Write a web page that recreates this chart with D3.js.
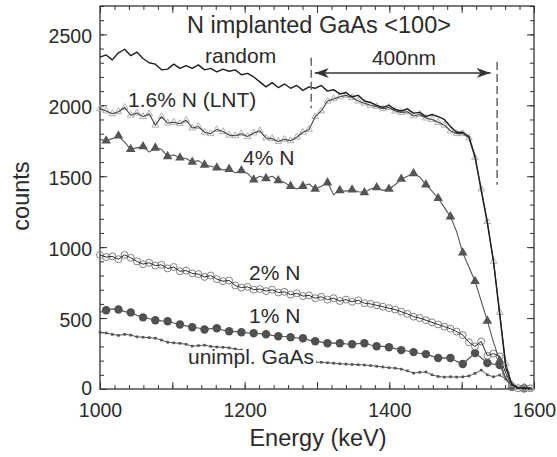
<!DOCTYPE html>
<html><head><meta charset="utf-8">
<script src="https://cdn.jsdelivr.net/npm/d3@7/dist/d3.min.js"></script>
<style>
body{margin:0;background:#fff}
text{font-family:"Liberation Sans",Arial,Helvetica,sans-serif;fill:#2b2b2b}
</style>
</head><body>
<svg id="chart" width="557" height="457"></svg>
<script>
// ---- data (counts per energy channel) ----
const channelStart = 1000;   // keV
const channelStep = 8.5;     // keV per channel

const randomCounts = [2340,2355,2320,2370,2395,2350,2375,2330,2300,2290,
 2250,2255,2290,2260,2280,2260,2285,2250,2260,2235,
 2255,2240,2250,2215,2225,2200,2165,2130,2160,2125,
 2150,2120,2140,2105,2130,2120,2140,2100,2110,2080,
 2090,2060,2070,2030,2020,2000,1985,2000,1970,1960,
 1975,1945,1950,1920,1935,1920,1900,1850,1810,1810,
 1780,1640,1400,1170,900,530,150,30,10,5,5];

const lntCounts = [1975,1960,1940,1955,1985,1930,1945,1920,1940,1860,
 1920,1875,1880,1870,1895,1840,1850,1810,1800,1830,
 1815,1790,1785,1800,1780,1805,1820,1770,1765,1745,
 1760,1750,1775,1810,1830,1920,1960,2030,2045,2060,
 2070,2055,2030,2015,2000,1990,1975,1985,1960,1950,
 1955,1925,1935,1910,1900,1880,1860,1820,1800,1800,
 1770,1630,1410,1180,900,540,180,30,10,5,5];

const n4Counts = [1760,1750,1765,1785,1740,1690,1700,1710,1670,1700,
 1690,1640,1650,1630,1625,1600,1610,1580,1570,1560,
 1545,1550,1525,1540,1520,1475,1500,1485,1500,1470,
 1455,1430,1410,1430,1445,1410,1430,1455,1370,1400,
 1395,1405,1390,1385,1410,1420,1400,1410,1440,1480,
 1500,1520,1495,1440,1395,1345,1280,1215,1110,960,
 860,760,620,480,330,200,70,20,10,5,5];

const n2Counts = [945,930,935,915,945,925,900,880,890,870,
 875,850,860,830,835,815,810,790,800,775,
 760,765,730,715,720,700,705,690,700,680,
 685,665,675,655,660,640,650,630,640,620,
 630,615,625,605,600,590,580,570,560,545,
 530,510,500,485,470,455,440,425,405,380,
 330,300,335,235,250,230,110,20,5,5,5];

const n1Counts = [540,555,565,560,545,540,520,505,495,485,
 480,478,465,455,445,435,430,420,425,428,
 415,407,405,400,395,393,390,386,378,372,
 370,365,360,358,345,337,330,323,325,323,
 318,316,320,323,310,302,300,295,285,274,
 268,260,252,246,232,218,220,218,195,176,
 215,253,220,183,175,169,77,15,5,5,5];

const unimplCounts = [400,395,385,378,385,380,368,365,362,358,
 345,330,325,322,315,302,306,309,300,296,
 294,290,282,275,268,262,255,248,240,232,
 225,218,210,202,196,190,188,185,182,178,
 176,173,171,169,165,160,155,150,147,140,
 128,112,118,120,100,88,84,86,84,86,
 92,110,133,100,86,98,70,10,5,3,3];

const xMajorTicks = [1000,1100,1200,1300,1400,1500,1600];
const xTickLabels = [1000,1200,1400,1600];
const yMajorTicks = [0,500,1000,1500,2000,2500];

const depthMarkEnergy = [1292, 1549];
const depthMarkTop = [2335, 2305];
const depthMarkBottom = [1980, 1440];
const arrowEnergy = [1297, 1540];
const arrowCounts = 2228;

// ---- setup ----
const svg = d3.select('#chart');
svg.append('rect').attr('width',557).attr('height',457).attr('fill','#fff');
const x = d3.scaleLinear().domain([1000,1600]).range([100,534]);
const y = d3.scaleLinear().domain([0,2700]).range([389,6]);
const energies = randomCounts.map((_, i) => channelStart + channelStep * i);
const pts = arr => arr.map((c, i) => ({e: energies[i], c, i}));

// ---- axes (inward ticks on all four sides) ----
const axisColor = '#333';
function styleAxis(g){
  g.select('.domain').remove();
  g.selectAll('line').attr('stroke', axisColor).attr('stroke-width', 1);
  g.selectAll('text').style('font-size','19.5px').attr('fill','#2b2b2b');
}
const xMinor = d3.range(1000,1601,20);
const yMinor = d3.range(0,2701,100);
svg.append('g').attr('transform',`translate(0,${y(0)})`)
  .call(d3.axisBottom(x).tickValues(xMinor).tickSize(-4).tickFormat('')).call(styleAxis);
svg.append('g').attr('transform',`translate(0,${y(0)})`)
  .call(d3.axisBottom(x).tickValues(xMajorTicks).tickSize(-7).tickPadding(14)
    .tickFormat(d => xTickLabels.includes(d) ? d : '')).call(styleAxis);
svg.append('g').attr('transform',`translate(0,${y(2700)})`)
  .call(d3.axisTop(x).tickValues(xMinor).tickSize(-4).tickFormat('')).call(styleAxis);
svg.append('g').attr('transform',`translate(0,${y(2700)})`)
  .call(d3.axisTop(x).tickValues(xMajorTicks).tickSize(-7).tickFormat('')).call(styleAxis);
svg.append('g').attr('transform',`translate(${x(1000)},0)`)
  .call(d3.axisLeft(y).tickValues(yMinor).tickSize(-4).tickFormat('')).call(styleAxis);
const gy = svg.append('g').attr('transform',`translate(${x(1000)},0)`)
  .call(d3.axisLeft(y).tickValues(yMajorTicks).tickSize(-7).tickPadding(8).tickFormat(d3.format('d'))).call(styleAxis);
gy.selectAll('text').attr('dy', d => d === 0 ? '0.3em' : '0.42em');
svg.append('g').attr('transform',`translate(${x(1600)},0)`)
  .call(d3.axisRight(y).tickValues(yMinor).tickSize(-4).tickFormat('')).call(styleAxis);
svg.append('g').attr('transform',`translate(${x(1600)},0)`)
  .call(d3.axisRight(y).tickValues(yMajorTicks).tickSize(-7).tickFormat('')).call(styleAxis);

// frame
svg.append('rect').attr('x',x(1000)).attr('y',y(2700))
  .attr('width',x(1600)-x(1000)).attr('height',y(0)-y(2700))
  .attr('fill','none').attr('stroke','#333').attr('stroke-width',1.3);

// ---- series ----
const line = d3.line().x(d => x(d.e)).y(d => y(d.c));
const series = [
  {counts: unimplCounts, stroke:'#555', sw:1, sym:d3.symbolSquare, size:7, fill:'#555', mStroke:'none', every:1, offset:0},
  {counts: n1Counts, stroke:'#555', sw:1.2, sym:d3.symbolCircle, size:56, fill:'#4f4f4f', mStroke:'none', every:2, offset:1},
  {counts: n2Counts, stroke:'#2a2a2a', sw:1, sym:d3.symbolCircle, size:38, fill:'none', mStroke:'#808080', every:1, offset:0},
  {counts: n4Counts, stroke:'#555', sw:1.1, sym:d3.symbolTriangle, size:40, fill:'#555', mStroke:'none', every:2, offset:1},
  {counts: lntCounts, stroke:'#444', sw:1.1, sym:d3.symbolTriangle, size:20, fill:'none', mStroke:'#b0b0b0', every:1, offset:0},
  {counts: randomCounts, stroke:'#1e1e1e', sw:1.4, sym:null}
];
series.forEach(s => {
  const p = pts(s.counts);
  const g = svg.append('g');
  if (s.sym) {
    g.append('g').selectAll('path').data(p.filter(d => d.i % s.every === s.offset % s.every))
      .join('path')
      .attr('transform', d => `translate(${x(d.e)},${y(d.c)})`)
      .attr('d', d3.symbol().type(s.sym).size(s.size))
      .attr('fill', s.fill).attr('stroke', s.mStroke).attr('stroke-width', 1);
  }
  g.append('path').datum(p).attr('d', line).attr('fill','none')
    .attr('stroke', s.stroke).attr('stroke-width', s.sw).attr('stroke-linejoin','round');
});

// ---- depth annotation ----
depthMarkEnergy.forEach((e, k) => {
  svg.append('line').attr('x1', x(e)).attr('x2', x(e))
    .attr('y1', y(depthMarkTop[k])).attr('y2', y(depthMarkBottom[k]))
    .attr('stroke','#666').attr('stroke-width',1.5).attr('stroke-dasharray','8,4');
});
const defs = svg.append('defs');
['end','start'].forEach(kind => {
  defs.append('marker').attr('id','arr-'+kind).attr('viewBox','0 0 14 10')
    .attr('refX', kind==='end' ? 14 : 0).attr('refY',5)
    .attr('markerWidth',14).attr('markerHeight',10).attr('markerUnits','userSpaceOnUse')
    .attr('orient','auto')
    .append('path')
    .attr('d', kind==='end' ? 'M0,0 L14,5 L0,10 L4,5 Z' : 'M14,0 L0,5 L14,10 L10,5 Z')
    .attr('fill','#333');
});
svg.append('line').attr('x1', x(arrowEnergy[0])).attr('x2', x(arrowEnergy[1]))
  .attr('y1', y(arrowCounts)).attr('y2', y(arrowCounts))
  .attr('stroke','#333').attr('stroke-width',1.4)
  .attr('marker-start','url(#arr-start)').attr('marker-end','url(#arr-end)');

// ---- text ----
const labels = [
  {t:'N implanted GaAs <100>', px:319, py:33, size:23.5, anchor:'middle'},
  {t:'random', px:205, py:63, size:21, anchor:'start'},
  {t:'400nm', px:404, py:65, size:21, anchor:'middle'},
  {t:'1.6% N (LNT)', px:128, py:107, size:21, anchor:'start'},
  {t:'4% N', px:243, py:165, size:21, anchor:'start'},
  {t:'2% N', px:249, py:280, size:21, anchor:'start'},
  {t:'1% N', px:249, py:323, size:21, anchor:'start'},
  {t:'unimpl. GaAs', px:188, py:364, size:21, anchor:'start', bg:true}
];
labels.forEach(l => {
  const g = svg.append('g');
  const tx = g.append('text').attr('x', l.px).attr('y', l.py)
    .attr('text-anchor', l.anchor).style('font-size', l.size+'px').text(l.t);
  if (l.bg) {
    const b = tx.node().getBBox();
    g.insert('rect','text').attr('x', b.x-1).attr('y', l.py-14)
      .attr('width', b.width+3).attr('height', 19).attr('fill','#fff');
  }
});
svg.append('text').attr('x', 318).attr('y', 446).attr('text-anchor','middle')
  .style('font-size','23.5px').text('Energy (keV)');
svg.append('text').attr('transform','translate(29,196) rotate(-90)').attr('text-anchor','middle')
  .style('font-size','23.5px').text('counts');
</script>
</body></html>
